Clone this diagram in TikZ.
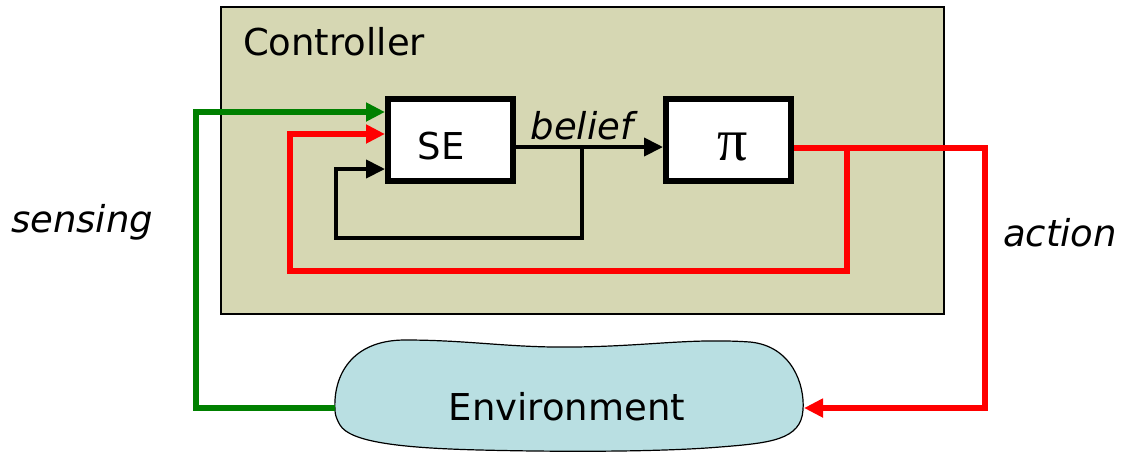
\documentclass[tikz,border=0pt]{standalone}
\usepackage{fontspec}
\setmainfont{DejaVu Sans}
\newfontfamily\pifont{Liberation Serif}
\usetikzlibrary{arrows.meta}
\definecolor{ctrlfill}{RGB}{214,215,179}
\definecolor{envfill}{RGB}{185,223,226}
\definecolor{sensegreen}{RGB}{0,128,0}
\definecolor{actred}{RGB}{255,0,0}
\tikzset{
  lbl/.style={font=\fontsize{18.5}{22}\selectfont},
  ilbl/.style={font=\fontsize{18.5}{22}\selectfont\itshape},
  blockbox/.style={draw, line width=3pt, fill=white, minimum width=62.5pt, minimum height=41pt, inner sep=0pt},
  tip/.style={-{Triangle[length=9.5pt,width=9pt]}},
}
\begin{document}
\begin{tikzpicture}[x=0.5pt,y=-0.5pt]
\useasboundingbox (0,0) rectangle (1125,452);
% controller frame
\draw[line width=0.8pt, fill=ctrlfill] (221,7) rectangle (944,314);
\node[lbl, anchor=base west] (ctrl) at (236,55) {Controller};
% environment blob
\draw[line width=0.6pt, fill=envfill] (335,410)
  .. controls (333,375) and (352,340) .. (405,340)
  .. controls (470,340) and (510,348) .. (575,347)
  .. controls (650,346) and (690,338) .. (750,342)
  .. controls (792,346) and (805,385) .. (803,410)
  .. controls (801,440) and (770,443) .. (720,447)
  .. controls (660,452) and (560,452) .. (480,450)
  .. controls (400,448) and (350,442) .. (340,425)
  .. controls (336,418) and (335,414) .. (335,410);
\node[lbl] (env) at (567,407) {Environment};
\coordinate (envW) at (335,408);
\coordinate (envE) at (804,408);
% blocks
\node[blockbox] (se) at (450.5,140) {};
\node[lbl] at (441,146) {SE};
\node[blockbox] (pi) at (728.5,140) {};
\node[font=\fontsize{30}{30}\selectfont\pifont] at (733,147) {π};
% belief and its loop back into SE
\coordinate (split) at (582,147);
\draw[line width=2pt, tip] (se.east |- 0,147) -- (pi.west |- 0,147);
\node[ilbl, anchor=base] (belief) at (582,139) {belief};
\draw[line width=2pt, tip] (split) -- (582,238) -- (336,238) -- (336,169) -- (se.west |- 0,169);
% sensing path
\draw[line width=2.75pt, sensegreen, tip] (envW) -| (196,112) -- (se.west |- 0,112);
\node[ilbl] (sensing) at (82,222) {sensing};
% action path and its copy back into SE
\coordinate (fork) at (847,148);
\draw[line width=2.75pt, actred, tip] (pi.east |- 0,148) -- (985,148) -- (985,408) -- (envE);
\draw[line width=2.75pt, actred, tip] (fork) -- (847,271) -- (290,271) -- (290,134) -- (se.west |- 0,134);
\node[ilbl] (action) at (1060,233) {action};
\end{tikzpicture}
\end{document}
